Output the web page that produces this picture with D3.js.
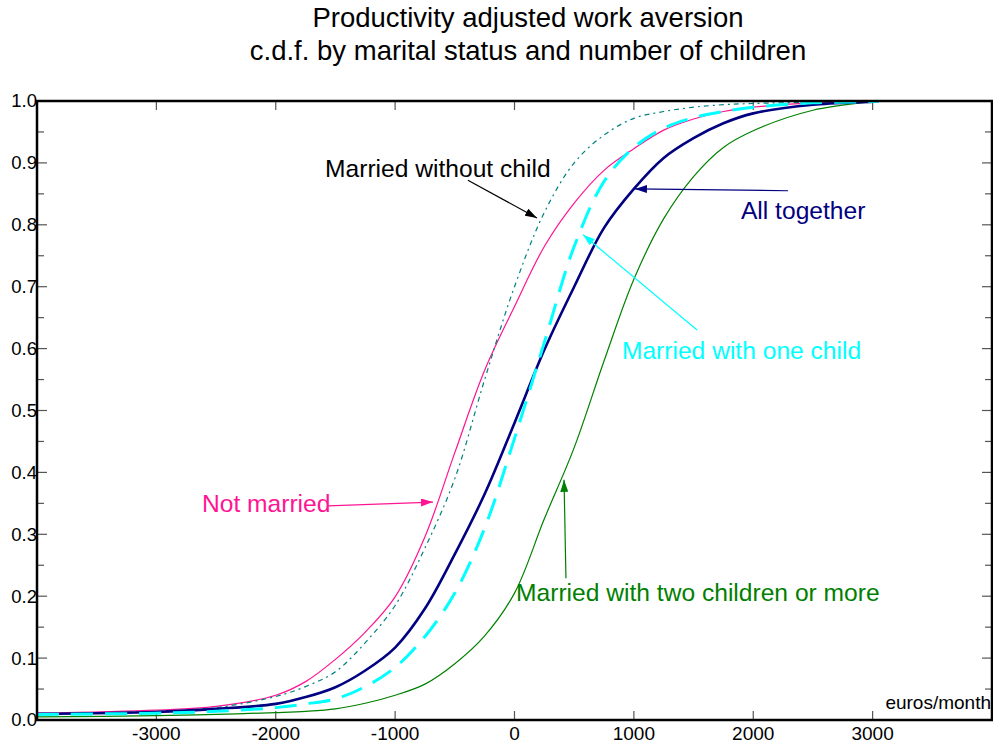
<!DOCTYPE html>
<html>
<head>
<meta charset="utf-8">
<script src="https://cdn.jsdelivr.net/npm/d3@7"></script>
<style>
  body { margin: 0; background: #fff; }
  text { font-family: "Liberation Sans", Arial, sans-serif; }
</style>
</head>
<body>
<div class="chart"></div>
<script>
var svgWidth = 993;
var svgHeight = 747;

// x values (euros/month) shared by every curve
var xs = [-4000, -3000, -2500, -2000, -1750, -1500, -1250, -1000, -750, -500, -250,
          0, 250, 500, 750, 1000, 1250, 1500, 1750, 2000, 2500, 3000, 3050];

// c.d.f. values
var allTogether = [0.010, 0.013, 0.018, 0.026, 0.037, 0.053, 0.080, 0.117, 0.180, 0.268, 0.365,
                   0.480, 0.598, 0.700, 0.795, 0.858, 0.908, 0.940, 0.964, 0.980, 0.994, 0.999, 1.0];
var notMarried = [0.011, 0.016, 0.022, 0.040, 0.062, 0.098, 0.142, 0.199, 0.296, 0.432, 0.565,
                  0.668, 0.765, 0.835, 0.888, 0.923, 0.953, 0.971, 0.983, 0.990, 0.997, 0.999, 1.0];
var marriedNoChild = [0.010, 0.014, 0.020, 0.038, 0.054, 0.078, 0.125, 0.185, 0.278, 0.390, 0.550,
                      0.700, 0.820, 0.900, 0.945, 0.972, 0.983, 0.990, 0.994, 0.996, 0.998, 0.999, 1.0];
var marriedOneChild = [0.009, 0.011, 0.014, 0.020, 0.026, 0.034, 0.054, 0.085, 0.135, 0.205, 0.310,
                       0.455, 0.610, 0.765, 0.870, 0.925, 0.956, 0.973, 0.983, 0.990, 0.997, 0.999, 1.0];
var marriedTwoPlus = [0.005, 0.007, 0.009, 0.012, 0.014, 0.018, 0.027, 0.040, 0.058, 0.091, 0.136,
                      0.205, 0.325, 0.440, 0.580, 0.712, 0.810, 0.878, 0.925, 0.952, 0.985, 0.999, 1.0];

var xTicks = [-3000, -2000, -1000, 0, 1000, 2000, 3000];
var yTicks = [0, 0.1, 0.2, 0.3, 0.4, 0.5, 0.6, 0.7, 0.8, 0.9, 1.0];
var yMinor = [0.05, 0.15, 0.25, 0.35, 0.45, 0.55, 0.65, 0.75, 0.85, 0.95];

var series = [
  { name: "green", values: marriedTwoPlus, color: "#008000", width: 1.2, dash: null },
  { name: "pink", values: notMarried, color: "#ff1493", width: 1.2, dash: null },
  { name: "teal", values: marriedNoChild, color: "#008080", width: 1.2, dash: "5,4,2,4" },
  { name: "navy", values: allTogether, color: "#000080", width: 2.6, dash: null },
  { name: "cyan", values: marriedOneChild, color: "#00ffff", width: 3, dash: "22,12" }
];

// label text, colour, text start (data units), arrow from -> to (data units)
var labels = [
  { text: "Married without child", color: "#000000", x: -1587, y: 0.878, ax: -390, ay: 0.872, bx: 188, by: 0.811 },
  { text: "All together", color: "#000080", x: 1897, y: 0.809, ax: 2291, ay: 0.855, bx: 1009, by: 0.858 },
  { text: "Married with one child", color: "#00ffff", x: 900, y: 0.584, ax: 1529, ay: 0.630, bx: 574, by: 0.784 },
  { text: "Not married", color: "#ff1493", x: -2618, y: 0.336, ax: -1562, ay: 0.346, bx: -683, by: 0.352 },
  { text: "Married with two children or more", color: "#008000", x: 13, y: 0.192, ax: 431, ay: 0.229, bx: 415, by: 0.388 }
];

var svg = d3.select(".chart")
  .append("svg")
  .attr("width", svgWidth)
  .attr("height", svgHeight);

var x = d3.scaleLinear().domain([-4000, 4000]).range([37, 992]);
var y = d3.scaleLinear().domain([0, 1]).range([720, 101]);

// title
svg.append("text")
  .attr("x", 528).attr("y", 27)
  .attr("text-anchor", "middle")
  .style("font-size", "27.5px")
  .text("Productivity adjusted work aversion");
svg.append("text")
  .attr("x", 528).attr("y", 60)
  .attr("text-anchor", "middle")
  .style("font-size", "27.5px")
  .text("c.d.f. by marital status and number of children");

var defs = svg.append("defs");
defs.append("clipPath")
  .attr("id", "plot")
  .append("rect")
  .attr("x", 37).attr("y", 101)
  .attr("width", 955).attr("height", 619);

labels.forEach(function(d, i) {
  defs.append("marker")
    .attr("id", "arrow" + i)
    .attr("markerUnits", "userSpaceOnUse")
    .attr("viewBox", "0 0 12 8")
    .attr("refX", 12).attr("refY", 4)
    .attr("markerWidth", 12).attr("markerHeight", 8)
    .attr("orient", "auto")
    .append("path")
    .attr("d", "M0,0L12,4L0,8Z")
    .attr("fill", d.color);
});

// ticks (inward, all four sides)
var tickGroup = svg.append("g").attr("stroke", "#555").attr("stroke-width", 1.2);
xTicks.forEach(function(t) {
  tickGroup.append("line").attr("x1", x(t)).attr("x2", x(t)).attr("y1", 720).attr("y2", 711);
  tickGroup.append("line").attr("x1", x(t)).attr("x2", x(t)).attr("y1", 101).attr("y2", 110);
});
yTicks.forEach(function(t) {
  tickGroup.append("line").attr("x1", 37).attr("x2", 47).attr("y1", y(t)).attr("y2", y(t));
  tickGroup.append("line").attr("x1", 992).attr("x2", 982).attr("y1", y(t)).attr("y2", y(t));
});
yMinor.forEach(function(t) {
  tickGroup.append("line").attr("x1", 37).attr("x2", 44).attr("y1", y(t)).attr("y2", y(t));
  tickGroup.append("line").attr("x1", 992).attr("x2", 985).attr("y1", y(t)).attr("y2", y(t));
});

// tick labels
svg.append("g").selectAll("text")
  .data(xTicks).enter()
  .append("text")
  .attr("x", d => x(d))
  .attr("y", 740)
  .attr("text-anchor", "middle")
  .style("font-size", "19px")
  .text(d => String(d));

svg.append("g").selectAll("text")
  .data(yTicks).enter()
  .append("text")
  .attr("x", 37)
  .attr("y", d => y(d))
  .attr("dy", "0.35em")
  .attr("text-anchor", "end")
  .style("font-size", "18.5px")
  .text(d => d.toFixed(1));

// curves
var line = d3.line()
  .x(d => x(d[0]))
  .y(d => y(d[1]))
  .curve(d3.curveCatmullRom.alpha(0.5));

var curves = svg.append("g").attr("clip-path", "url(#plot)");
series.forEach(function(s) {
  curves.append("path")
    .datum(xs.map((v, i) => [v, s.values[i]]))
    .attr("d", line)
    .attr("fill", "none")
    .attr("stroke", s.color)
    .attr("stroke-width", s.width)
    .attr("stroke-dasharray", s.dash);
});

// unit label, ends just at the right frame
svg.append("text")
  .attr("x", 991).attr("y", y(0.018))
  .attr("text-anchor", "end")
  .style("font-size", "19px")
  .text("euros/month");

// frame
svg.append("rect")
  .attr("x", 37).attr("y", 101)
  .attr("width", 955).attr("height", 619)
  .attr("fill", "none")
  .attr("stroke", "#000")
  .attr("stroke-width", 2.5);

// annotations
labels.forEach(function(d, i) {
  svg.append("line")
    .attr("x1", x(d.ax)).attr("y1", y(d.ay))
    .attr("x2", x(d.bx)).attr("y2", y(d.by))
    .attr("stroke", d.color)
    .attr("stroke-width", 1.2)
    .attr("marker-end", "url(#arrow" + i + ")");
  svg.append("text")
    .attr("x", x(d.x)).attr("y", y(d.y))
    .attr("fill", d.color)
    .style("font-size", "24.6px")
    .text(d.text);
});
</script>
</body>
</html>
